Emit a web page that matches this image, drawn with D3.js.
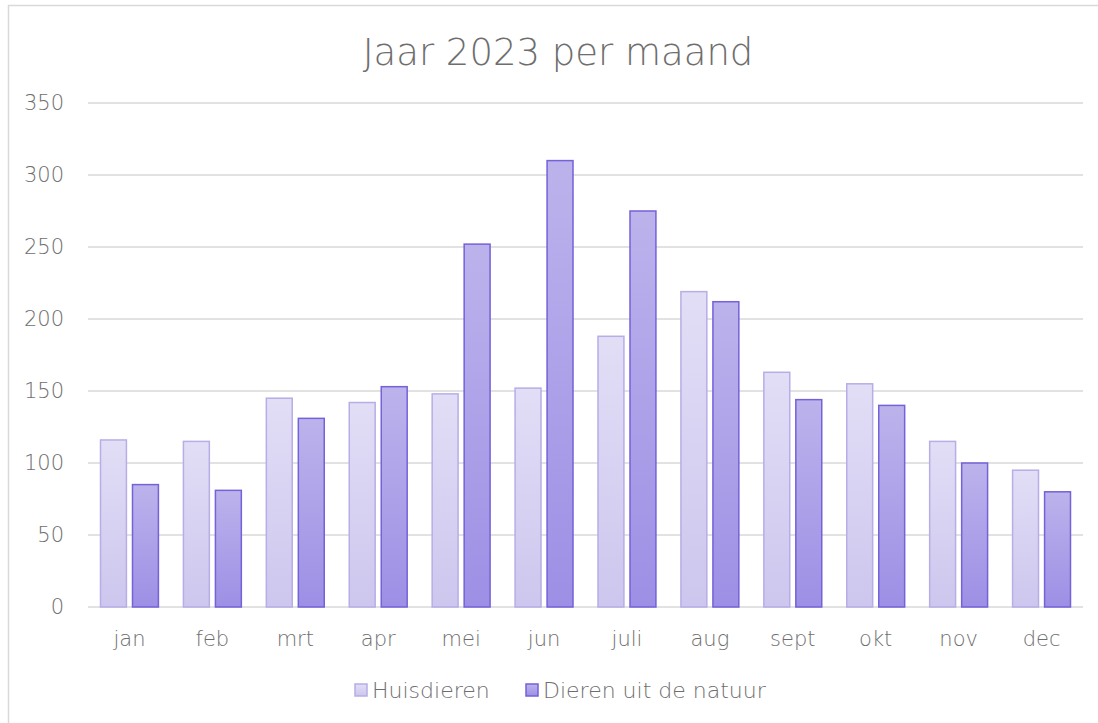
<!DOCTYPE html>
<html>
<head>
<meta charset="utf-8">
<script src="https://cdn.jsdelivr.net/npm/d3@7"></script>
<style>
  body { margin: 0; background: #fff; }
  svg { display: block; font-family: "DejaVu Sans", sans-serif; font-weight: 200; }
</style>
</head>
<body>
<svg width="1098" height="723"></svg>
<script>
var months = ["jan", "feb", "mrt", "apr", "mei", "jun", "juli", "aug", "sept", "okt", "nov", "dec"];
var huisdieren = [116, 115, 145, 142, 148, 152, 188, 219, 163, 155, 115, 95];
var natuur = [85, 81, 131, 153, 252, 310, 275, 212, 144, 140, 100, 80];
var seriesNames = ["Huisdieren", "Dieren uit de natuur"];
var yTicks = [0, 50, 100, 150, 200, 250, 300, 350];

var svg = d3.select("svg"),
    margin = {top: 103, right: 15, bottom: 116, left: 88},
    width = 1083 - margin.left,
    height = 607 - margin.top,
    textColor = "#6e6e6e";

// chart frame
svg.append("rect")
    .attr("x", 8.5).attr("y", 5.5)
    .attr("width", 1200).attr("height", 800)
    .attr("fill", "#fff")
    .attr("stroke", "#d9d9d9")
    .attr("stroke-width", 1.5);

var defs = svg.append("defs");
function grad(id, c1, c2) {
  var lg = defs.append("linearGradient").attr("id", id)
      .attr("x1", 0).attr("y1", 0).attr("x2", 0).attr("y2", 1);
  lg.append("stop").attr("offset", "0%").attr("stop-color", c1);
  lg.append("stop").attr("offset", "100%").attr("stop-color", c2);
}
grad("g0", "#e2def6", "#cdc6ee");
grad("g1", "#bcb3ec", "#9d8fe5");

var fills = ["url(#g0)", "url(#g1)"];
var strokes = ["#b8ade6", "#7362d8"];

var g = svg.append("g").attr("transform", "translate(" + margin.left + "," + margin.top + ")");

var x0 = d3.scaleBand().domain(months).range([0, width]).paddingInner(0).paddingOuter(0);
var x1 = d3.scaleBand().domain([0, 1]).range([12.5, x0.bandwidth() - 12.5]).paddingInner(0.19);
var y = d3.scaleLinear().domain([0, 350]).range([height, 0]);

// gridlines
g.append("g")
  .selectAll("line")
  .data(yTicks)
  .enter().append("line")
    .attr("x1", 0).attr("x2", width)
    .attr("y1", function(d) { return y(d); })
    .attr("y2", function(d) { return y(d); })
    .attr("stroke", "#d9d9d9")
    .attr("stroke-width", 1.5);

var yAxis = g.append("g")
    .call(d3.axisLeft(y).tickValues(yTicks).tickSize(0).tickPadding(24))
    .attr("font-family", null)
    .attr("font-size", 21);
yAxis.select(".domain").remove();
yAxis.selectAll("text").attr("fill", textColor);

var data = months.map(function(m, i) { return {month: m, vals: [huisdieren[i], natuur[i]]}; });

g.append("g")
  .selectAll("g")
  .data(data)
  .enter().append("g")
    .attr("transform", function(d) { return "translate(" + x0(d.month) + ",0)"; })
  .selectAll("rect")
  .data(function(d) { return d.vals; })
  .enter().append("rect")
    .attr("x", function(d, i) { return x1(i); })
    .attr("y", function(d) { return y(d); })
    .attr("width", x1.bandwidth())
    .attr("height", function(d) { return height - y(d); })
    .attr("fill", function(d, i) { return fills[i]; })
    .attr("stroke", function(d, i) { return strokes[i]; })
    .attr("stroke-width", 1.5);

var xAxis = g.append("g")
    .attr("transform", "translate(0," + height + ")")
    .call(d3.axisBottom(x0).tickSize(0).tickPadding(24))
    .attr("font-family", null)
    .attr("font-size", 21);
xAxis.select(".domain").remove();
xAxis.selectAll("text").attr("fill", textColor);

svg.append("text")
    .attr("x", 558)
    .attr("y", 65)
    .attr("text-anchor", "middle")
    .attr("fill", textColor)
    .attr("font-size", 37)
    .text("Jaar 2023 per maand");

// legend
var legendX = [355, 526];
var legend = svg.append("g")
  .selectAll("g")
  .data(seriesNames)
  .enter().append("g")
    .attr("transform", function(d, i) { return "translate(" + legendX[i] + ",684)"; });

legend.append("rect")
    .attr("width", 12).attr("height", 12)
    .attr("fill", function(d, i) { return fills[i]; })
    .attr("stroke", function(d, i) { return strokes[i]; })
    .attr("stroke-width", 1.5);

legend.append("text")
    .attr("x", 17)
    .attr("y", 6)
    .attr("dy", "0.35em")
    .attr("fill", textColor)
    .attr("font-size", 22)
    .text(function(d) { return d; });
</script>
</body>
</html>
